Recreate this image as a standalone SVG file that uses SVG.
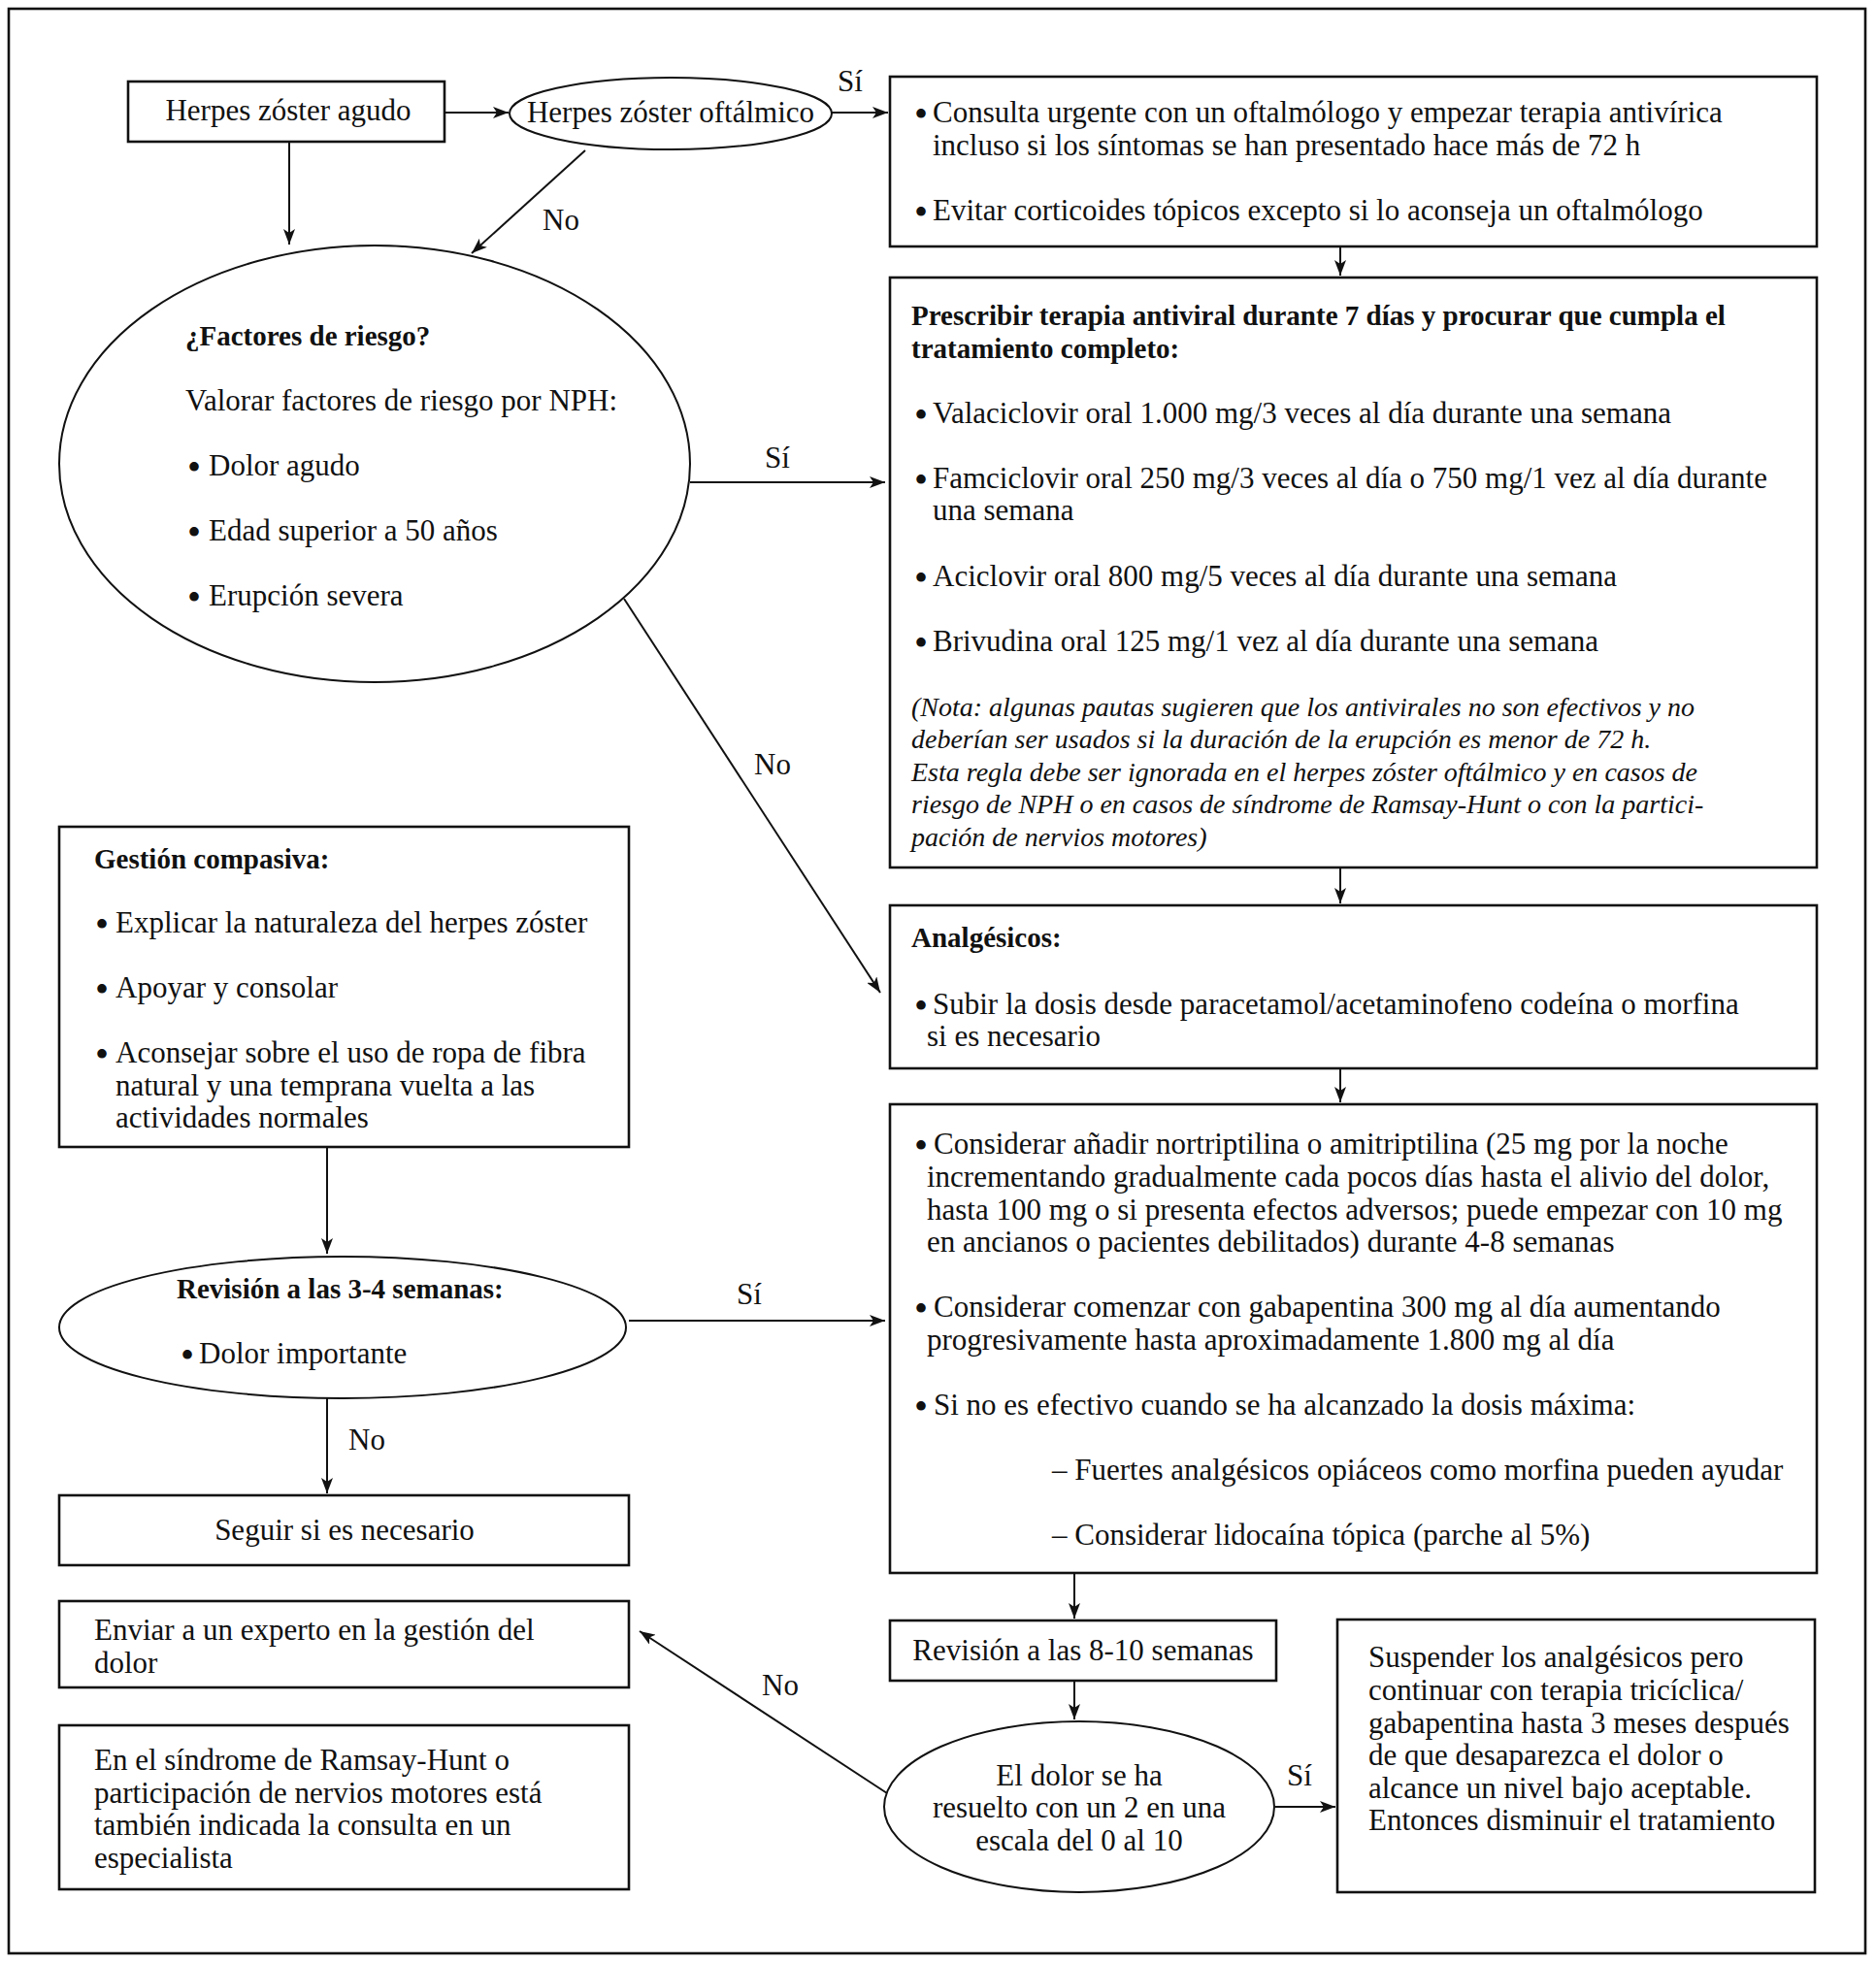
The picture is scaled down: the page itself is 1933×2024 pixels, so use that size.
<svg xmlns="http://www.w3.org/2000/svg" width="1933" height="2024" viewBox="0 0 1933 2024">
<style>
text{font-family:"Liberation Serif","Times New Roman",serif;fill:#111}
.t{font-size:31px}
.b{font-size:29px;font-weight:bold}
.i{font-size:28px;font-style:italic}
.m{text-anchor:middle}
.bl{font-size:40px}
.box{fill:#fff;stroke:#111;stroke-width:2.6}
.ell{fill:#fff;stroke:#111;stroke-width:2}
.c line{stroke:#111;stroke-width:2;marker-end:url(#ah)}
</style>
<defs>
<marker id="ah" viewBox="0 0 16 12" refX="16" refY="6" markerWidth="16" markerHeight="12" orient="auto" markerUnits="userSpaceOnUse">
<path d="M0,0 L16,6 L0,12 L4,6 z" fill="#111"/>
</marker>
</defs>
<rect x="0" y="0" width="1933" height="2024" fill="#fff"/>
<rect x="9" y="9" width="1913" height="2004" fill="none" stroke="#111" stroke-width="2.6"/>

<g id="connectors" class="c">
<line x1="458" y1="116" x2="524" y2="116"/>
<line x1="857" y1="116" x2="915" y2="116"/>
<line x1="298" y1="146" x2="298" y2="252"/>
<line x1="603" y1="155" x2="486" y2="261"/>
<line x1="1381" y1="254" x2="1381" y2="284"/>
<line x1="711" y1="497" x2="912" y2="497"/>
<line x1="1381" y1="894" x2="1381" y2="931"/>
<line x1="643" y1="617" x2="907" y2="1023"/>
<line x1="1381" y1="1101" x2="1381" y2="1136"/>
<line x1="337" y1="1182" x2="337" y2="1292"/>
<line x1="648" y1="1361" x2="912" y2="1361"/>
<line x1="337" y1="1441" x2="337" y2="1539"/>
<line x1="1107" y1="1621" x2="1107" y2="1668"/>
<line x1="1107" y1="1732" x2="1107" y2="1772"/>
<line x1="1314" y1="1862" x2="1376" y2="1862"/>
<line x1="914" y1="1848" x2="659" y2="1681"/>
</g>

<g id="labels">
<text class="t m" x="876" y="94">Sí</text>
<text class="t m" x="578" y="237">No</text>
<text class="t m" x="801" y="482">Sí</text>
<text class="t m" x="796" y="798">No</text>
<text class="t m" x="772" y="1344">Sí</text>
<text class="t m" x="378" y="1494">No</text>
<text class="t m" x="1339" y="1840">Sí</text>
<text class="t m" x="804" y="1747">No</text>
</g>

<g id="herpes-agudo">
<rect class="box" x="132" y="84" width="326" height="62"/>
<text class="t m" x="297" y="124">Herpes zóster agudo</text>
</g>

<g id="herpes-oftalmico">
<ellipse class="ell" cx="691" cy="117" rx="166" ry="37"/>
<text class="t m" x="691" y="126">Herpes zóster oftálmico</text>
</g>

<g id="consulta-urgente">
<rect class="box" x="917" y="79" width="955" height="175"/>
<text class="t" y="126"><tspan class="bl" x="942" dy="5">•</tspan><tspan x="961" dy="-5">Consulta urgente con un oftalmólogo y empezar terapia antivírica</tspan></text>
<text class="t" x="961" y="160">incluso si los síntomas se han presentado hace más de 72 h</text>
<text class="t" y="227"><tspan class="bl" x="942" dy="5">•</tspan><tspan x="961" dy="-5">Evitar corticoides tópicos excepto si lo aconseja un oftalmólogo</tspan></text>
</g>

<g id="factores-riesgo">
<ellipse class="ell" cx="386" cy="478" rx="325" ry="225"/>
<text class="b" x="191" y="356">¿Factores de riesgo?</text>
<text class="t" x="191" y="423">Valorar factores de riesgo por NPH:</text>
<text class="t" y="490"><tspan class="bl" x="193" dy="5">•</tspan><tspan x="215" dy="-5">Dolor agudo</tspan></text>
<text class="t" y="557"><tspan class="bl" x="193" dy="5">•</tspan><tspan x="215" dy="-5">Edad superior a 50 años</tspan></text>
<text class="t" y="624"><tspan class="bl" x="193" dy="5">•</tspan><tspan x="215" dy="-5">Erupción severa</tspan></text>
</g>

<g id="terapia-antiviral">
<rect class="box" x="917" y="286" width="955" height="608"/>
<text class="b" x="939" y="335">Prescribir terapia antiviral durante 7 días y procurar que cumpla el</text>
<text class="b" x="939" y="369">tratamiento completo:</text>
<text class="t" y="436"><tspan class="bl" x="942" dy="5">•</tspan><tspan x="961" dy="-5">Valaciclovir oral 1.000 mg/3 veces al día durante una semana</tspan></text>
<text class="t" y="503"><tspan class="bl" x="942" dy="5">•</tspan><tspan x="961" dy="-5">Famciclovir oral 250 mg/3 veces al día o 750 mg/1 vez al día durante</tspan></text>
<text class="t" x="961" y="536">una semana</text>
<text class="t" y="604"><tspan class="bl" x="942" dy="5">•</tspan><tspan x="961" dy="-5">Aciclovir oral 800 mg/5 veces al día durante una semana</tspan></text>
<text class="t" y="671"><tspan class="bl" x="942" dy="5">•</tspan><tspan x="961" dy="-5">Brivudina oral 125 mg/1 vez al día durante una semana</tspan></text>
<text class="i" x="939" y="738">(Nota: algunas pautas sugieren que los antivirales no son efectivos y no</text>
<text class="i" x="939" y="771">deberían ser usados si la duración de la erupción es menor de 72 h.</text>
<text class="i" x="939" y="805">Esta regla debe ser ignorada en el herpes zóster oftálmico y en casos de</text>
<text class="i" x="939" y="838">riesgo de NPH o en casos de síndrome de Ramsay-Hunt o con la partici-</text>
<text class="i" x="939" y="872">pación de nervios motores)</text>
</g>

<g id="gestion-compasiva">
<rect class="box" x="61" y="852" width="587" height="330"/>
<text class="b" x="97" y="895">Gestión compasiva:</text>
<text class="t" y="961"><tspan class="bl" x="98" dy="5">•</tspan><tspan x="119" dy="-5">Explicar la naturaleza del herpes zóster</tspan></text>
<text class="t" y="1028"><tspan class="bl" x="98" dy="5">•</tspan><tspan x="119" dy="-5">Apoyar y consolar</tspan></text>
<text class="t" y="1095"><tspan class="bl" x="98" dy="5">•</tspan><tspan x="119" dy="-5">Aconsejar sobre el uso de ropa de fibra</tspan></text>
<text class="t" x="119" y="1129">natural y una temprana vuelta a las</text>
<text class="t" x="119" y="1162">actividades normales</text>
</g>

<g id="analgesicos">
<rect class="box" x="917" y="933" width="955" height="168"/>
<text class="b" x="939" y="976">Analgésicos:</text>
<text class="t" y="1045"><tspan class="bl" x="942" dy="5">•</tspan><tspan x="961" dy="-5">Subir la dosis desde paracetamol/acetaminofeno codeína o morfina</tspan></text>
<text class="t" x="955" y="1078">si es necesario</text>
</g>

<g id="considerar">
<rect class="box" x="917" y="1138" width="955" height="483"/>
<text class="t" y="1189"><tspan class="bl" x="942" dy="5">•</tspan><tspan x="962" dy="-5">Considerar añadir nortriptilina o amitriptilina (25 mg por la noche</tspan></text>
<text class="t" x="955" y="1223">incrementando gradualmente cada pocos días hasta el alivio del dolor,</text>
<text class="t" x="955" y="1257">hasta 100 mg o si presenta efectos adversos; puede empezar con 10 mg</text>
<text class="t" x="955" y="1290">en ancianos o pacientes debilitados) durante 4-8 semanas</text>
<text class="t" y="1357"><tspan class="bl" x="942" dy="5">•</tspan><tspan x="962" dy="-5">Considerar comenzar con gabapentina 300 mg al día aumentando</tspan></text>
<text class="t" x="955" y="1391">progresivamente hasta aproximadamente 1.800 mg al día</text>
<text class="t" y="1458"><tspan class="bl" x="942" dy="5">•</tspan><tspan x="962" dy="-5">Si no es efectivo cuando se ha alcanzado la dosis máxima:</tspan></text>
<text class="t" x="1084" y="1525">– Fuertes analgésicos opiáceos como morfina pueden ayudar</text>
<text class="t" x="1084" y="1592">– Considerar lidocaína tópica (parche al 5%)</text>
</g>

<g id="revision-3-4">
<ellipse class="ell" cx="353" cy="1368" rx="292" ry="73"/>
<text class="b" x="182" y="1338">Revisión a las 3-4 semanas:</text>
<text class="t" y="1405"><tspan class="bl" x="186" dy="5">•</tspan><tspan x="205" dy="-5">Dolor importante</tspan></text>
</g>

<g id="seguir">
<rect class="box" x="61" y="1541" width="587" height="72"/>
<text class="t m" x="355" y="1587">Seguir si es necesario</text>
</g>

<g id="enviar-experto">
<rect class="box" x="61" y="1650" width="587" height="89"/>
<text class="t" x="97" y="1690">Enviar a un experto en la gestión del</text>
<text class="t" x="97" y="1724">dolor</text>
</g>

<g id="ramsay-hunt">
<rect class="box" x="61" y="1778" width="587" height="169"/>
<text class="t" x="97" y="1824">En el síndrome de Ramsay-Hunt o</text>
<text class="t" x="97" y="1858">participación de nervios motores está</text>
<text class="t" x="97" y="1891">también indicada la consulta en un</text>
<text class="t" x="97" y="1925">especialista</text>
</g>

<g id="revision-8-10">
<rect class="box" x="917" y="1670" width="398" height="62"/>
<text class="t m" x="1116" y="1711">Revisión a las 8-10 semanas</text>
</g>

<g id="dolor-resuelto">
<ellipse class="ell" cx="1112" cy="1862" rx="201" ry="88"/>
<text class="t m" x="1112" y="1840">El dolor se ha</text>
<text class="t m" x="1112" y="1873">resuelto con un 2 en una</text>
<text class="t m" x="1112" y="1907">escala del 0 al 10</text>
</g>

<g id="suspender">
<rect class="box" x="1378" y="1669" width="492" height="281"/>
<text class="t" x="1410" y="1718">Suspender los analgésicos pero</text>
<text class="t" x="1410" y="1752">continuar con terapia tricíclica/</text>
<text class="t" x="1410" y="1786">gabapentina hasta 3 meses después</text>
<text class="t" x="1410" y="1819">de que desaparezca el dolor o</text>
<text class="t" x="1410" y="1853">alcance un nivel bajo aceptable.</text>
<text class="t" x="1410" y="1886">Entonces disminuir el tratamiento</text>
</g>
</svg>
